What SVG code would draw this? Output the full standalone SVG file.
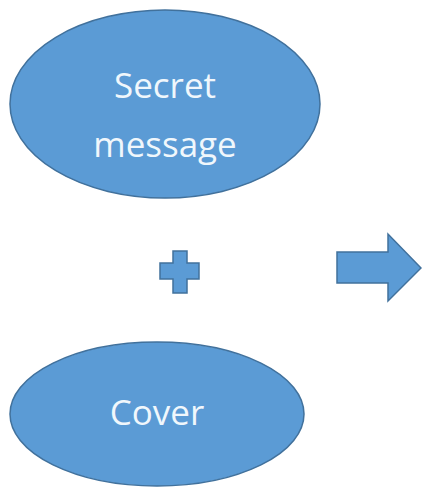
<svg xmlns="http://www.w3.org/2000/svg" width="422" height="488" viewBox="0 0 422 488">
  <style>
    .shape { fill: #5b9bd5; stroke: #41719c; stroke-width: 1.5; }
    .label { fill: #f0f7fc; font-family: "Open Sans", "Liberation Sans", sans-serif; font-size: 35px; text-anchor: middle; }
  </style>
  <rect width="422" height="488" fill="#ffffff"/>

  <g id="secret-message">
    <ellipse class="shape" cx="165" cy="104" rx="155" ry="94"/>
    <text class="label" x="165" y="98">Secret</text>
    <text class="label" x="165" y="157">message</text>
  </g>

  <g id="plus">
    <path class="shape" d="M173,251 H187 V263 H199 V279 H187 V293 H173 V279 H160 V263 H173 Z"/>
  </g>

  <g id="cover">
    <ellipse class="shape" cx="157" cy="414" rx="147" ry="72"/>
    <text class="label" x="157" y="425">Cover</text>
  </g>

  <g id="connectors">
    <path class="shape" d="M337,252 H388 V234 L421,268 L388,301 V283 H337 Z"/>
  </g>
</svg>
